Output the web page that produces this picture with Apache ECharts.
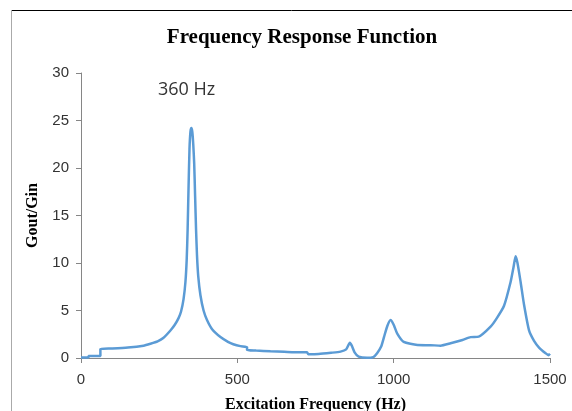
<!DOCTYPE html>
<html>
<head>
<meta charset="utf-8">
<script src="https://cdn.jsdelivr.net/npm/echarts@6/dist/echarts.min.js"></script>
<style>
html,body{margin:0;padding:0;background:#fff;}
#c{width:572px;height:411px;}
</style>
</head>
<body>
<div id="c"></div>
<script>
const chartTitle = "Frequency Response Function";
const xAxisTitle = "Excitation Frequency (Hz)";
const yAxisTitle = "Gout/Gin";
const peakNote = "360 Hz";
const xTicks = [0, 500, 1000, 1500];
const yTicks = [0, 5, 10, 15, 20, 25, 30];

const freqHz = [0, 24, 24, 62, 62, 100, 150, 200, 222, 245, 263, 286, 300, 312, 320, 328, 334, 338, 341, 344, 347, 350, 353, 356, 359, 362, 365, 368, 371, 375, 382, 392, 403, 420, 446, 470, 487, 510, 531, 531, 560, 606, 650, 700, 723, 727, 760, 800, 830, 848, 860, 866, 875, 888, 915, 935, 947, 960, 969, 980, 990, 1000, 1011, 1032, 1076, 1118, 1150, 1182, 1220, 1246, 1272, 1310, 1330, 1353, 1374, 1383, 1390, 1396, 1406, 1417, 1433, 1449, 1465, 1486, 1495, 1500];
const gain = [0.05, 0.05, 0.2, 0.2, 0.95, 1.0, 1.1, 1.3, 1.5, 1.75, 2.1, 2.9, 3.5, 4.2, 4.9, 6.2, 8.0, 10.3, 13.5, 18.0, 22.0, 23.8, 24.2, 23.8, 22.5, 20.5, 17.0, 13.5, 10.8, 8.6, 6.6, 5.0, 4.0, 3.0, 2.2, 1.7, 1.45, 1.25, 1.15, 0.85, 0.78, 0.7, 0.65, 0.6, 0.6, 0.4, 0.42, 0.55, 0.67, 0.9, 1.6, 1.3, 0.6, 0.15, 0.02, 0.1, 0.5, 1.2, 2.2, 3.4, 4.0, 3.5, 2.6, 1.7, 1.37, 1.35, 1.3, 1.55, 1.9, 2.2, 2.25, 3.3, 4.2, 5.5, 8.0, 9.5, 10.7, 10.0, 8.0, 5.6, 2.9, 1.8, 1.1, 0.5, 0.3, 0.45];

const points = freqHz.map((f, i) => [f, gain[i]]);

const chart = echarts.init(document.getElementById('c'), null, {renderer: 'canvas'});
const serif = '"Liberation Serif", "Times New Roman", serif';
const sans = '"Liberation Sans", Arial, sans-serif';

chart.setOption({
  animation: false,
  backgroundColor: '#ffffff',
  title: {
    text: chartTitle,
    left: 297,
    top: 22,
    textAlign: 'center',
    textStyle: {fontFamily: serif, fontWeight: 'bold', fontSize: 21, color: '#000'}
  },
  grid: {left: 81, right: 22, top: 73, bottom: 53, containLabel: false, outerBoundsMode: 'none'},
  xAxis: {
    type: 'value',
    min: xTicks[0],
    max: xTicks[xTicks.length - 1],
    interval: 500,
    name: xAxisTitle,
    nameLocation: 'middle',
    nameGap: 39,
    nameTextStyle: {fontFamily: serif, fontWeight: 'bold', fontSize: 16, color: '#000'},
    axisLine: {show: true, lineStyle: {color: '#868686', width: 1}},
    axisTick: {show: true, inside: false, length: 5, lineStyle: {color: '#868686'}},
    axisLabel: {fontFamily: sans, fontSize: 15, color: '#333', margin: 14, formatter: v => String(v)},
    splitLine: {show: false}
  },
  yAxis: {
    type: 'value',
    min: yTicks[0],
    max: yTicks[yTicks.length - 1],
    interval: 5,
    name: yAxisTitle,
    nameLocation: 'middle',
    nameGap: 40,
    nameRotate: 90,
    nameTextStyle: {fontFamily: serif, fontWeight: 'bold', fontSize: 16, color: '#000'},
    axisLine: {show: true, lineStyle: {color: '#868686', width: 1}},
    axisTick: {show: true, inside: false, length: 5, lineStyle: {color: '#868686'}},
    axisLabel: {fontFamily: sans, fontSize: 15, color: '#333', margin: 12, formatter: v => String(v)},
    splitLine: {show: false}
  },
  series: [{
    type: 'line',
    data: points,
    showSymbol: false,
    smooth: 0.2,
    lineStyle: {color: '#5B9BD5', width: 2.5},
    itemStyle: {color: '#5B9BD5'}
  }],
  graphic: [
    {type: 'line', shape: {x1: 11, y1: 10.5, x2: 572, y2: 10.5}, style: {stroke: '#000', lineWidth: 1}},
    {type: 'line', shape: {x1: 11.5, y1: 10, x2: 11.5, y2: 411}, style: {stroke: '#aaaaaa', lineWidth: 1}},
    {type: 'text', left: 158, top: 81, style: {text: peakNote, font: '18px "Open Sans", sans-serif', fill: '#333'}}
  ]
});
</script>
</body>
</html>
